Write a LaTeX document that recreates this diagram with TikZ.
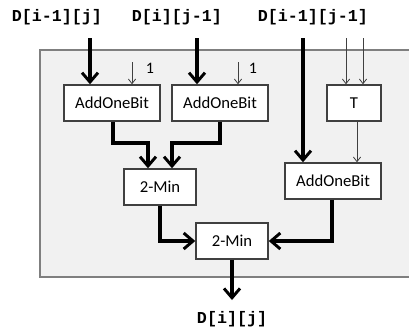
\documentclass[tikz,border=0pt]{standalone}
\usepackage{fontspec}
\setmainfont{Carlito}
\newfontfamily\monob{Liberation Mono}
\usetikzlibrary{arrows.meta}
\definecolor{panelfill}{HTML}{F1F1F1}
\definecolor{panelline}{HTML}{7F7F7F}
\definecolor{boxline}{HTML}{404040}
\definecolor{thinline}{HTML}{404040}
\begin{document}
\begin{tikzpicture}[x=0.75pt,y=-0.75pt,
  blk/.style={draw=boxline,line width=1.1pt,fill=white,inner sep=0pt,minimum height=27pt,font=\fontsize{12.5}{14}\selectfont},
  wide/.style={blk,minimum width=72pt},
  narrow/.style={blk,minimum width=54pt},
  tbox/.style={blk,minimum width=40.5pt},
  lab/.style={font=\monob\bfseries\fontsize{12.5}{14}\selectfont,inner sep=0pt},
  one/.style={font=\fontsize{12}{14}\selectfont,inner sep=0pt},
  bigarrow/.style={line width=3pt,-{Straight Barb[length=7pt,width=12pt,line width=2.2pt]}},
  smallarrow/.style={draw=thinline,line width=0.6pt,-{Straight Barb[length=3.5pt,width=5.5pt,line width=0.6pt]}}
]
\useasboundingbox (0,0) rectangle (409,330);
\clip (0,0) rectangle (409,330);
\fill[white] (0,0) rectangle (409,330);
\draw[fill=panelfill,draw=panelline,line width=1pt] (40,50) rectangle (430,277);

\node[lab] (l1) at (57,17) {D[i-1][j]};
\node[lab] (l2) at (177,17) {D[i][j-1]};
\node[lab] (l3) at (313,17) {D[i-1][j-1]};
\node[lab] (lo) at (232,319) {D[i][j]};

\node[wide] (a1) at (112,103) {AddOneBit};
\node[wide] (a2) at (220,103) {AddOneBit};
\node[tbox] (t) at (354,103) {T};
\node[narrow] (m1) at (160,187) {2-Min};
\node[wide] (a3) at (333,181) {AddOneBit};
\node[narrow] (m2) at (232,241) {2-Min};

\node[one] (o1) at (150,68) {1};
\node[one] (o2) at (253,68) {1};

\coordinate (in1) at (90,38);
\coordinate (in2) at (197,38);
\coordinate (in3) at (303,38);
\coordinate (c1) at (132,62);
\coordinate (c2) at (238,62);
\coordinate (t1) at (346,38);
\coordinate (t2) at (363,38);
\coordinate (out) at (232,300);

\draw[bigarrow] (in1) -- (in1 |- a1.north);
\draw[bigarrow] (in2) -- (in2 |- a2.north);
\draw[bigarrow] (in3) -- (in3 |- a3.north);
\draw[smallarrow] (c1) -- (c1 |- a1.north);
\draw[smallarrow] (c2) -- (c2 |- a2.north);
\draw[smallarrow] (t1) -- (t1 |- t.north);
\draw[smallarrow] (t2) -- (t2 |- t.north);
\draw[smallarrow] ([xshift=2.25pt]t.south) -- ([xshift=2.25pt]t.south |- a3.north);

\draw[bigarrow] ([xshift=0.75pt]a1.south) -- ++(0,21) -| ([xshift=-9pt]m1.north);
\draw[bigarrow] (a2.south) -- ++(0,21) -| ([xshift=9pt]m1.north);
\draw[bigarrow] (m1.south) |- (m2.west);
\draw[bigarrow] ([xshift=-0.75pt]a3.south) |- (m2.east);
\draw[bigarrow] (m2.south) -- (out);
\end{tikzpicture}
\end{document}
